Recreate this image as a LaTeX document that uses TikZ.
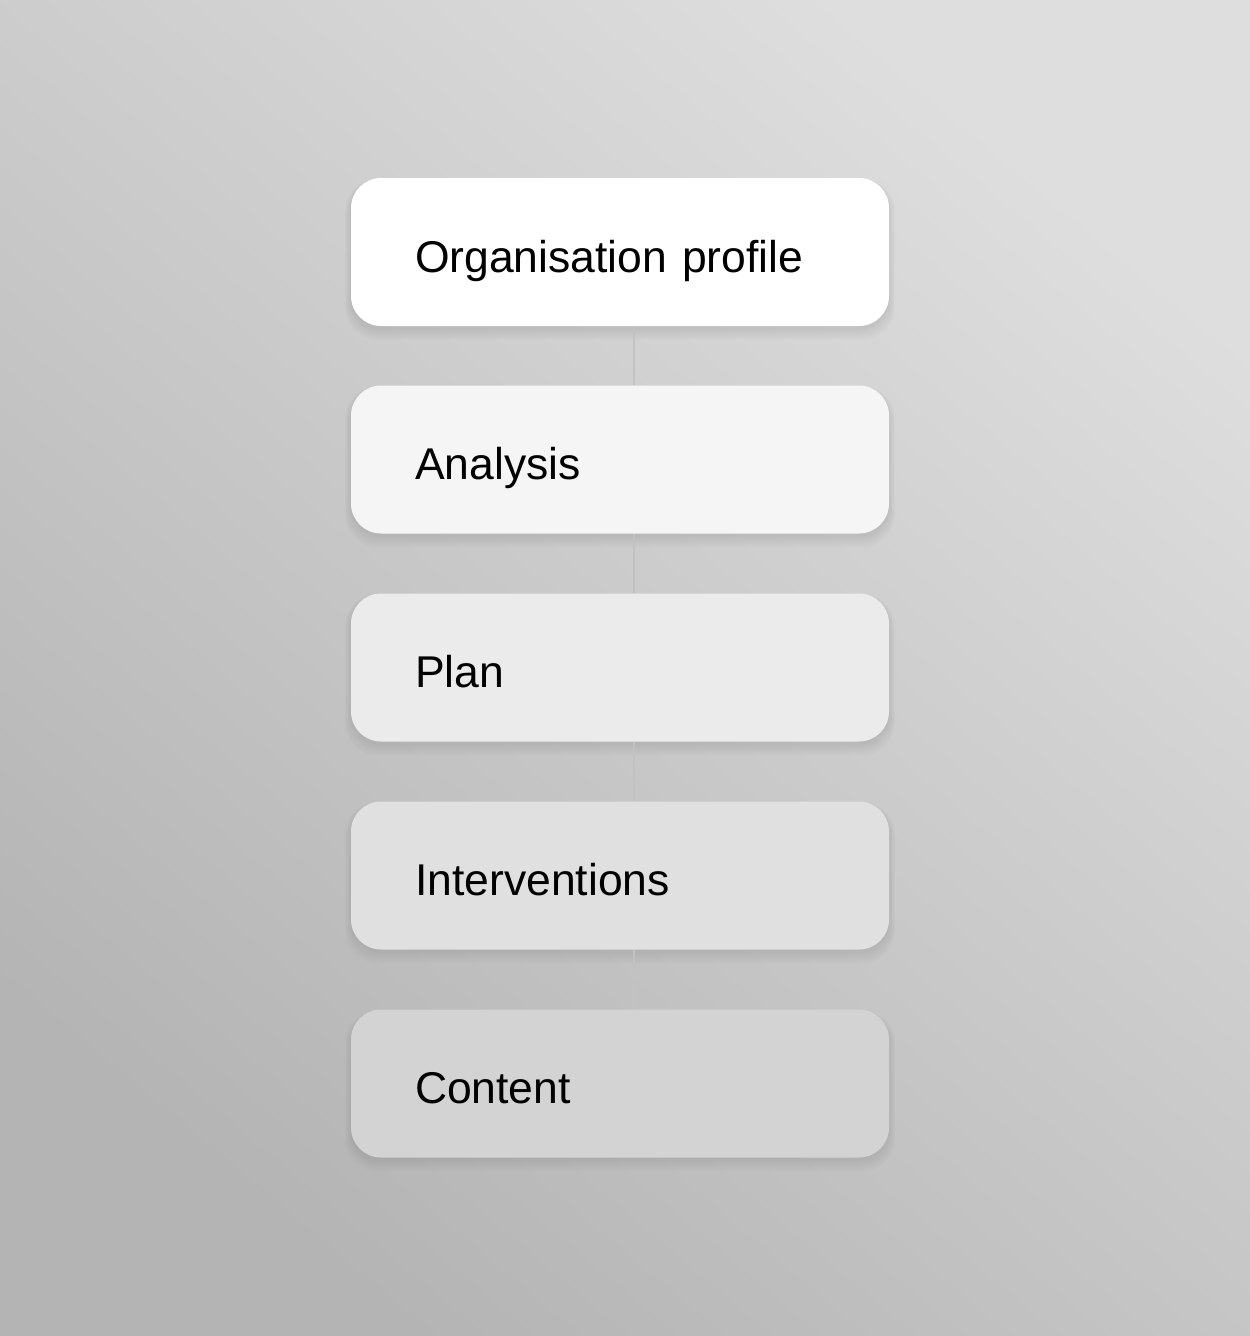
\documentclass[tikz,border=0pt]{standalone}
\usepackage{fontspec}
\setmainfont{Liberation Sans}
\usetikzlibrary{calc}
\pgfdeclarelayer{back}
\pgfdeclarelayer{shad}
\pgfsetlayers{back,shad,main}
\definecolor{bgtop}{HTML}{DEDEDE}
\definecolor{bgbot}{HTML}{B4B4B4}
\definecolor{linec}{HTML}{C2C2C2}
\definecolor{fa}{HTML}{FFFFFF}
\definecolor{fb}{HTML}{F5F5F5}
\definecolor{fc}{HTML}{EBEBEB}
\definecolor{fd}{HTML}{E0E0E0}
\definecolor{fe}{HTML}{D3D3D3}
\tikzset{
  stepbox/.style={rounded corners=30pt, minimum width=538pt, minimum height=148pt,
    text width=410pt, inner xsep=64pt, inner ysep=0pt, align=left,
    text height=40pt, text depth=0pt,
    font=\fontsize{44.5}{53}\selectfont, text=black},
  link/.style={draw=linec, line width=1.6pt}
}
\begin{document}
\begin{tikzpicture}[x=1pt,y=1pt]
\useasboundingbox (0,0) rectangle (1250,-1336);
\begin{pgfonlayer}{back}
\shade[top color=bgtop, bottom color=bgbot, shading angle=-40] (0,0) rectangle (1250,-1336);
\end{pgfonlayer}
\node[stepbox, fill=fa] (b1) at (620,-252) {Organisation profile};
\node[stepbox, fill=fb] (b2) at (620,-459.5) {Analysis};
\node[stepbox, fill=fc] (b3) at (620,-667.5) {Plan};
\node[stepbox, fill=fd] (b4) at (620,-875.5) {Interventions};
\node[stepbox, fill=fe] (b5) at (620,-1083.5) {Content};
\begin{pgfonlayer}{shad}
\foreach \b in {b1,b2,b3,b4,b5}{
  \foreach \e in {14,11,8,5,2}{
    \fill[black, opacity=0.016, rounded corners=32pt]
      ($(\b.south west)+(-\e*0.4,-2-\e*0.8)$) rectangle ($(\b.north east)+(\e*0.4,-4+\e*0.2)$);
  }
}
\foreach \a/\b in {b1/b2,b2/b3,b3/b4,b4/b5}{
  \draw[link] ([xshift=14pt]\a.south) -- ([xshift=14pt]\b.north);
}
\end{pgfonlayer}
\end{tikzpicture}
\end{document}
